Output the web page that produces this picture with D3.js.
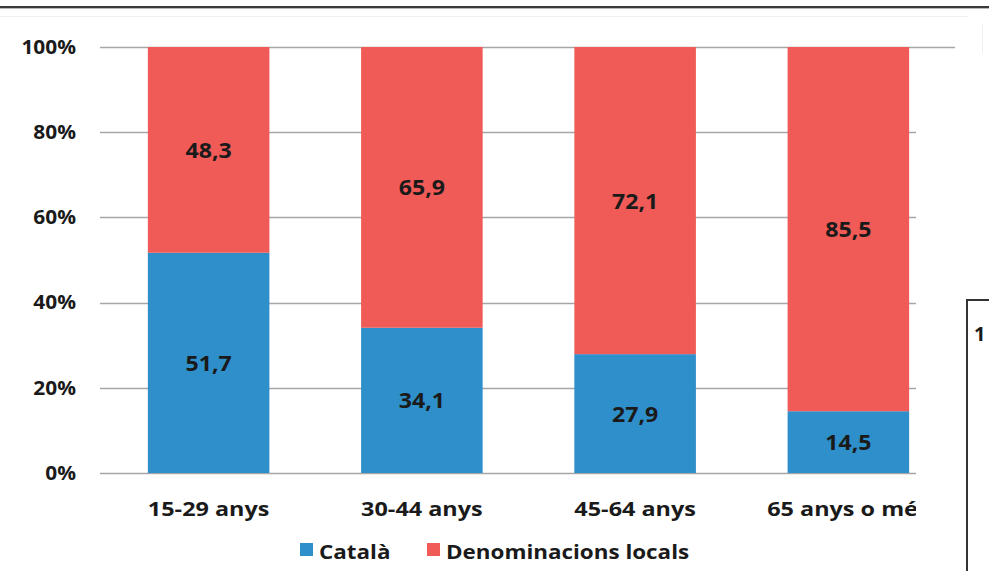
<!DOCTYPE html>
<html>
<head>
<meta charset="utf-8">
<script src="https://cdn.jsdelivr.net/npm/d3@7/dist/d3.min.js"></script>
<style>
  html, body { margin: 0; padding: 0; background: #fff; }
  svg { display: block; }
  text { font-family: "Open Sans", sans-serif; font-weight: bold; fill: #1a1a1a; }
</style>
</head>
<body>
<script>
// Age groups and share (%) of each name for the language
const categories = ["15-29 anys", "30-44 anys", "45-64 anys", "65 anys o més"];
const catala = [51.7, 34.1, 27.9, 14.5];
const locals = [48.3, 65.9, 72.1, 85.5];
const seriesNames = ["Català", "Denominacions locals"];
const seriesColors = ["#2E8FCB", "#F15B57"];
const yTicks = [0, 20, 40, 60, 80, 100];

const W = 989, H = 571;
const svg = d3.select("body").append("svg").attr("width", W).attr("height", H);

// widen bold text horizontally by factor k
function stretch(sel, k) {
  sel.each(function () {
    const len = this.getComputedTextLength();
    d3.select(this).attr("textLength", len * k).attr("lengthAdjust", "spacingAndGlyphs");
  });
}

const x = d3.scaleBand().domain(categories).range([102, 955]).paddingInner(0.43).paddingOuter(0.215);
const y = d3.scaleLinear().domain([0, 100]).range([473, 47]);

// frame line across the top
svg.append("rect").attr("x", 0).attr("y", 6).attr("width", W).attr("height", 2).attr("fill", "#3a3a3a");
svg.append("rect").attr("x", 0).attr("y", 8).attr("width", W).attr("height", 1).attr("fill", "#b8b8b8");
svg.append("rect").attr("x", 0).attr("y", 16).attr("width", 968).attr("height", 1).attr("fill", "#f0f0f0");
svg.append("rect").attr("x", 982).attr("y", 24).attr("width", 1).attr("height", 100).attr("fill", "#eeeeee");

// gridlines
svg.append("g").selectAll("line").data(yTicks).join("line")
  .attr("x1", 100).attr("x2", 955)
  .attr("y1", d => Math.round(y(d)) + 0.5).attr("y2", d => Math.round(y(d)) + 0.5)
  .attr("stroke", "#a6a6a6").attr("stroke-width", 1.5);

// y axis labels
const yAxis = d3.axisLeft(y).tickValues(yTicks).tickFormat(d => d + "%").tickSize(0).tickPadding(0);
const ya = svg.append("g").attr("transform", "translate(76,0)").call(yAxis);
ya.select(".domain").remove();
ya.selectAll("text").attr("font-size", 19.5).attr("font-family", "'Open Sans', sans-serif").attr("font-weight", "bold").attr("fill", "#1a1a1a")
  .call(stretch, 1.07);

// stacked bars
const rows = categories.map((c, i) => ({ cat: c, Català: catala[i], "Denominacions locals": locals[i] }));
const stacked = d3.stack().keys(seriesNames)(rows);
const g = svg.append("g");
stacked.forEach((layer, li) => {
  g.append("g").selectAll("rect").data(layer).join("rect")
    .attr("x", d => x(d.data.cat))
    .attr("width", x.bandwidth())
    .attr("y", d => y(d[1]))
    .attr("height", d => y(d[0]) - y(d[1]))
    .attr("fill", seriesColors[li]);
  g.append("g").selectAll("text").data(layer).join("text")
    .attr("x", d => x(d.data.cat) + x.bandwidth() / 2)
    .attr("y", d => (y(d[0]) + y(d[1])) / 2)
    .attr("text-anchor", "middle").attr("dominant-baseline", "central")
    .attr("font-size", 21).attr("fill", "#111")
    .text(d => d3.format(".1f")(d[1] - d[0]).replace(".", ","))
    .call(stretch, 1.1);
});

// category axis
const xAxis = d3.axisBottom(x).tickSize(0).tickPadding(0);
const xa = svg.append("g").attr("transform", "translate(0,502)").call(xAxis);
xa.select(".domain").remove();
xa.selectAll("text").attr("font-size", 20).attr("font-family", "'Open Sans', sans-serif").attr("font-weight", "bold").attr("fill", "#1a1a1a").attr("dy", "0.71em")
  .call(stretch, 1.17);

// right side is covered by the neighbouring panel
svg.append("rect").attr("x", 916).attr("y", 53).attr("width", 73).attr("height", H - 53).attr("fill", "#fff");
svg.append("rect").attr("x", 966).attr("y", 299).attr("width", 2).attr("height", H - 299).attr("fill", "#333");
svg.append("rect").attr("x", 966).attr("y", 299).attr("width", W - 966).attr("height", 2).attr("fill", "#333");
svg.append("text").attr("x", 974).attr("y", 341).attr("font-size", 20).text("1");

// legend
const legendX = [300, 427];
const lg = svg.append("g");
seriesNames.forEach((n, i) => {
  lg.append("rect").attr("x", legendX[i]).attr("y", 543).attr("width", 13).attr("height", 13).attr("fill", seriesColors[i]);
  lg.append("text").attr("x", legendX[i] + 19).attr("y", 551).attr("dominant-baseline", "central")
    .attr("font-size", 20).text(n).call(stretch, 1.12);
});
</script>
</body>
</html>
